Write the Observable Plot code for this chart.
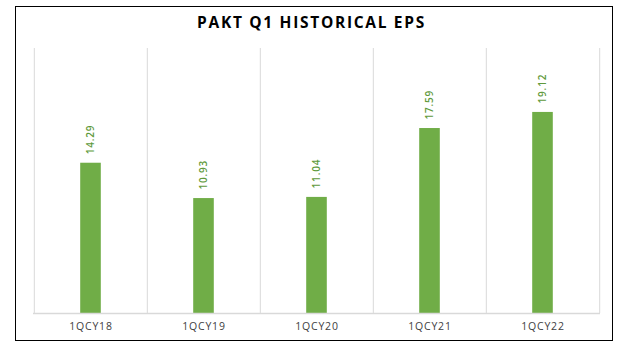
<!DOCTYPE html>
<html>
<head>
<meta charset="utf-8">
<script src="https://cdn.jsdelivr.net/npm/d3@7"></script>
<script src="https://cdn.jsdelivr.net/npm/@observablehq/plot@0.6"></script>
<style>
  html, body { margin: 0; padding: 0; background: #fff; }
  body { width: 623px; height: 353px; position: relative; overflow: hidden; font-family: "Open Sans", "Liberation Sans", sans-serif; }
  #frame { position: absolute; left: 15px; top: 6px; width: 598px; height: 335px; border: 1px solid #000; box-sizing: border-box; }
  #title { position: absolute; left: 0; top: 11px; width: 623px; text-align: center; font-weight: 700; font-size: 15.5px; letter-spacing: 1.7px; color: #000; }
  #chart { position: absolute; left: 0; top: 0; }
</style>
</head>
<body>
<div id="frame"></div>
<div id="title">PAKT Q1 HISTORICAL EPS</div>
<div id="chart"></div>
<script>
const categories = ["1QCY18", "1QCY19", "1QCY20", "1QCY21", "1QCY22"];
const eps = [14.29, 10.93, 11.04, 17.59, 19.12];

const data = categories.map((c, i) => ({ cat: c, value: eps[i] }));

const W = 623, H = 353;
const ml = 33, mr = 23, mt = 48, mb = 40;
const bw = (W - ml - mr) / categories.length;
const barW = 21;
const inset = (bw - barW) / 2;

const plot = Plot.plot({
  width: W,
  height: H,
  marginLeft: ml,
  marginRight: mr,
  marginTop: mt,
  marginBottom: mb,
  style: { background: "transparent", fontFamily: "'Open Sans', 'Liberation Sans', sans-serif", overflow: "visible" },
  x: { domain: categories, padding: 0, label: null, tickSize: 0, tickPadding: 9 },
  y: { domain: [0, 25.2], axis: null },
  marks: [
    Plot.ruleX(categories, { x: d => d, dx: -bw / 2, stroke: "#d9d9d9", strokeWidth: 1 }),
    Plot.ruleX([categories[categories.length - 1]], { x: d => d, dx: bw / 2, stroke: "#d9d9d9", strokeWidth: 1 }),
    Plot.barY(data, { x: "cat", y: "value", fill: "#70AD47", insetLeft: inset, insetRight: inset }),
    Plot.ruleY([0], { stroke: "#d9d9d9", strokeWidth: 1.5 }),
    Plot.text(data, { x: "cat", y: "value", text: d => d.value.toFixed(2), rotate: -90, textAnchor: "start", dy: -9, fill: "#5f9a3c", fontSize: 10, fontWeight: 600 }),
    Plot.axisX({ tickSize: 0, tickPadding: 9, fontSize: 10.5, label: null, fill: "#404040" })
  ]
});
plot.querySelectorAll("text").forEach(t => t.style.letterSpacing = "0.8px");
document.getElementById("chart").appendChild(plot);
</script>
</body>
</html>
